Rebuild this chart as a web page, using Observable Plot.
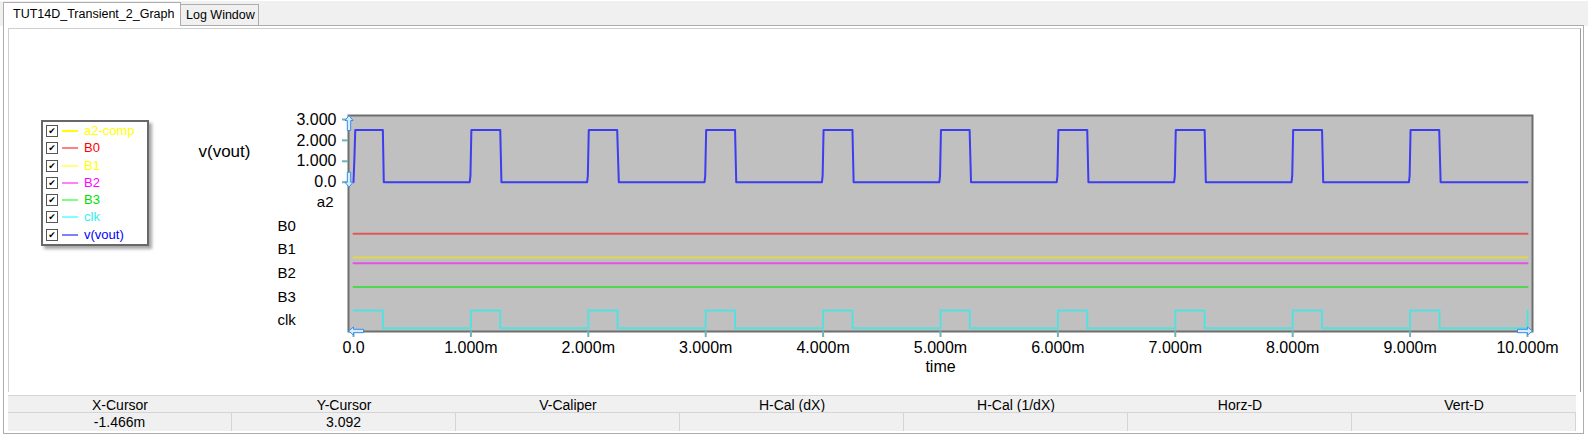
<!DOCTYPE html>
<html>
<head>
<meta charset="utf-8">
<script src="https://cdn.jsdelivr.net/npm/d3@7"></script>
<script src="https://cdn.jsdelivr.net/npm/@observablehq/plot@0.6"></script>
<style>
html,body{margin:0;padding:0;width:1588px;height:436px;overflow:hidden;background:#fff;font-family:"Liberation Sans",Arial,sans-serif;}
#strip{position:absolute;left:0;top:0;width:1588px;height:26px;background:#f0f0f0;border-top:1px solid #fff;box-sizing:border-box;}
.tab{position:absolute;font-size:12.5px;line-height:14px;box-sizing:border-box;border:1px solid #adadad;border-bottom:none;white-space:nowrap;color:#000;}
#tab1{left:3px;top:2px;width:178px;height:24px;background:#fff;padding:4px 0 0 9px;z-index:3;}
#tab2{left:180px;top:4px;width:79px;height:21px;background:#f0f0f0;padding:3px 0 0 5px;z-index:2;}
#panel{position:absolute;left:3px;top:25px;width:1581px;height:409px;box-sizing:border-box;border:1px solid #adadad;background:#fff;}
#inner{position:absolute;left:8px;top:28px;width:1573px;height:364px;box-sizing:border-box;border-top:1px solid #cfcfcf;border-left:1px solid #cfcfcf;border-right:1px solid #9a9a9a;}
#chart{position:absolute;left:0;top:0;z-index:4;}
#legend{position:absolute;left:41px;top:120px;width:108px;height:126px;box-sizing:border-box;border:2px solid #686868;background:#fff;box-shadow:3px 3px 3px rgba(0,0,0,0.35);z-index:5;}
.row{position:relative;height:17.3px;}
.cb{position:absolute;left:3px;top:3px;width:10px;height:10px;border:1px solid #555;background:#fff;font:bold 9px "DejaVu Sans";line-height:10px;text-align:center;color:#000;}
.ln{position:absolute;left:19px;top:8px;width:16px;height:2px;}
.lt{position:absolute;left:41px;top:0;font-size:13px;line-height:17px;white-space:nowrap;}
.trow{position:absolute;left:8px;width:1568px;background:#f0f0f0;box-sizing:border-box;border-top:1px solid #d5d5d5;z-index:5;}
#thead{top:395px;height:17px;}
#tvals{top:412px;height:19px;}
.cell{position:absolute;top:0;width:224px;height:100%;box-sizing:border-box;text-align:center;font-size:14px;line-height:16px;padding-top:1px;color:#000;white-space:nowrap;}
#tvals .cell{border-right:1px solid #d5d5d5;}
</style>
</head>
<body>
<div id="strip"></div>
<div class="tab" id="tab1">TUT14D_Transient_2_Graph</div>
<div class="tab" id="tab2">Log Window</div>
<div id="panel"></div>
<div id="inner"></div>
<div id="chart"></div>
<div id="legend"></div>
<div class="trow" id="thead"></div>
<div class="trow" id="tvals"></div>
<script>
// ---------- data ----------
const yTicks = [0, 1, 2, 3];
const yTickLabels = ["0.0", "1.000", "2.000", "3.000"];
const xTicks = [0, 1, 2, 3, 4, 5, 6, 7, 8, 9, 10];
const xTickLabels = ["0.0", "1.000m", "2.000m", "3.000m", "4.000m", "5.000m", "6.000m", "7.000m", "8.000m", "9.000m", "10.000m"];

// v(vout) in volts vs time in ms
const voutTime = [
  0.000, 0.008, 0.015, 0.250, 0.258,
  0.990, 0.996, 1.004, 1.250, 1.260,
  1.990, 1.996, 2.004, 2.246, 2.260,
  2.990, 2.996, 3.004, 3.250, 3.260,
  3.990, 3.996, 4.004, 4.250, 4.260,
  4.990, 4.996, 5.004, 5.248, 5.260,
  5.990, 5.996, 6.004, 6.250, 6.260,
  6.990, 6.996, 7.004, 7.250, 7.260,
  7.990, 7.996, 8.004, 8.250, 8.260,
  8.990, 8.996, 9.004, 9.248, 9.260,
  10.000
];
const voutValue = [
  0.00, 1.20, 2.50, 2.50, 0.00,
  0.00, 0.30, 2.50, 2.50, 0.00,
  0.00, 0.30, 2.50, 2.50, 0.00,
  0.00, 0.30, 2.50, 2.50, 0.00,
  0.00, 0.30, 2.50, 2.50, 0.00,
  0.00, 0.30, 2.50, 2.50, 0.00,
  0.00, 0.30, 2.50, 2.50, 0.00,
  0.00, 0.30, 2.50, 2.50, 0.00,
  0.00, 0.30, 2.50, 2.50, 0.00,
  0.00, 0.30, 2.50, 2.50, 0.00,
  0.00
];

// digital lanes
const laneNames = ["a2", "B0", "B1", "B2", "B3", "clk"];
const clkTime  = [0, 0.25, 1, 1.25, 2, 2.25, 3, 3.25, 4, 4.25, 5, 5.25, 6, 6.25, 7, 7.25, 8, 8.25, 9, 9.25, 10];
const clkValue = [1, 0,    1, 0,    1, 0,    1, 0,    1, 0,    1, 0,    1, 0,    1, 0,    1, 0,    1, 0,    1];
const busTime = [0, 10];
const b0Value = [0, 0];
const b1Value = [0, 0];
const b2Value = [1, 1];
const b3Value = [1, 1];

// legend & cursor table
const legendNames = ["a2-comp", "B0", "B1", "B2", "B3", "clk", "v(vout)"];
const tableHeaders = ["X-Cursor", "Y-Cursor", "V-Caliper", "H-Cal (dX)", "H-Cal (1/dX)", "Horz-D", "Vert-D"];
const tableValues = ["-1.466m", "3.092", "", "", "", "", ""];

// ---------- styles ----------
const legendTextColors = ["#ffff00", "#ff0000", "#ffff00", "#ff00ff", "#00e000", "#33eeee", "#0000ff"];
const legendLineColors = ["#ffff00", "#ff8080", "#ffff80", "#ff80ff", "#80ff80", "#80ffff", "#8080ff"];
const traceColors = {vout: "#3c3cf0", B0: "#e05858", B1: "#e0d84c", B2: "#e055e0", B3: "#4fd84f", clk: "#55e0e0"};
const tickColor = "#6cb3b6";

// lane layout (in y-scale units)
const laneY = (i, v) => -1.34 - 1.13 * i + 0.85 * v;

const vout = voutTime.map((t, i) => ({t, v: voutValue[i]}));
const lane = (times, vals, idx) => times.map((t, i) => ({t, v: laneY(idx, vals[i])}));

// cursor arrow symbols (hollow block arrows)
const arrowSym = (rot) => ({
  draw(ctx) {
    const pts = [[0, -7.5], [4, -2.5], [1.7, -2.5], [1.7, 7.5], [-1.7, 7.5], [-1.7, -2.5], [-4, -2.5]];
    const c = Math.cos(rot), s = Math.sin(rot);
    pts.forEach(([x, y], i) => {
      const X = x * c - y * s, Y = x * s + y * c;
      if (i === 0) ctx.moveTo(X, Y); else ctx.lineTo(X, Y);
    });
    ctx.closePath();
  }
});
const arrowStyle = {fill: "#d8ecff", stroke: "#3a8ee6", strokeWidth: 1};

const chart = Plot.plot({
  width: 1588,
  height: 390,
  marginLeft: 348,
  marginRight: 56,
  marginTop: 115,
  marginBottom: 59,
  style: {background: "transparent", fontFamily: "'Liberation Sans', Arial, sans-serif", fontSize: "16px", color: "#000"},
  x: {domain: [0, 10], insetLeft: 5, insetRight: 5},
  y: {domain: [-7.14, 3.19]},
  marks: [
    Plot.frame({fill: "#c0c0c0", stroke: "#6e6e6e", strokeWidth: 2}),
    Plot.axisY({ticks: yTicks, tickFormat: d => yTickLabels[yTicks.indexOf(d)], tickSize: 6, tickPadding: 6, stroke: tickColor, strokeWidth: 2, fill: "#000", label: null, fontSize: 16}),
    Plot.axisX({ticks: xTicks, tickFormat: d => xTickLabels[xTicks.indexOf(d)], tickSize: 6, tickPadding: 4, stroke: tickColor, strokeWidth: 2, fill: "#000", label: null, fontSize: 16}),
    Plot.line(lane(busTime, b0Value, 1), {x: "t", y: "v", stroke: traceColors.B0, strokeWidth: 2}),
    Plot.line(lane(busTime, b1Value, 2), {x: "t", y: "v", stroke: traceColors.B1, strokeWidth: 2}),
    Plot.line(lane(busTime, b2Value, 3), {x: "t", y: "v", stroke: traceColors.B2, strokeWidth: 2}),
    Plot.line(lane(busTime, b3Value, 4), {x: "t", y: "v", stroke: traceColors.B3, strokeWidth: 2}),
    Plot.line(lane(clkTime, clkValue, 5), {x: "t", y: "v", stroke: traceColors.clk, strokeWidth: 2, curve: "step-after"}),
    Plot.line(vout, {x: "t", y: "v", stroke: traceColors.vout, strokeWidth: 2}),
    // lane labels
    Plot.text(laneNames.slice(0, 1), {frameAnchor: "left", y: () => laneY(0, 0.44), dx: -15, textAnchor: "end", fontSize: 15, fill: "#000"}),
    Plot.text(laneNames.slice(1), {frameAnchor: "left", y: (d, i) => laneY(i + 1, 0.44), dx: -71, textAnchor: "start", fontSize: 15, fill: "#000"}),
    // signal name of the analog pane
    Plot.text(["v(vout)"], {frameAnchor: "left", y: 1.47, dx: -150, textAnchor: "start", fontSize: 17, fill: "#000"}),
    // x axis title
    Plot.text(["time"], {frameAnchor: "bottom", lineAnchor: "middle", dy: 35, fontSize: 16, fill: "#000"}),
    // cursor arrows
    Plot.dot([0], {frameAnchor: "top-left", dx: 0.5, dy: 7.5, symbol: arrowSym(0), ...arrowStyle}),
    Plot.dot([0], {frameAnchor: "left", y: 0, dx: 0.5, dy: -2.5, symbol: arrowSym(Math.PI), ...arrowStyle}),
    Plot.dot([0], {frameAnchor: "bottom-left", dx: 7.5, dy: -0.5, symbol: arrowSym(-Math.PI / 2), ...arrowStyle}),
    Plot.dot([0], {frameAnchor: "bottom-right", dx: -7.5, dy: -0.5, symbol: arrowSym(Math.PI / 2), ...arrowStyle})
  ]
});
document.getElementById("chart").appendChild(chart);

// legend
const legend = document.getElementById("legend");
legendNames.forEach((name, i) => {
  const row = document.createElement("div");
  row.className = "row";
  row.innerHTML = `<span class="cb">\u2714</span><span class="ln" style="background:${legendLineColors[i]}"></span><span class="lt" style="color:${legendTextColors[i]}">${name}</span>`;
  legend.appendChild(row);
});

// cursor table
const thead = document.getElementById("thead");
const tvals = document.getElementById("tvals");
tableHeaders.forEach((h, i) => {
  const c = document.createElement("div");
  c.className = "cell"; c.style.left = (i * 224) + "px"; c.textContent = h;
  thead.appendChild(c);
  const v = document.createElement("div");
  v.className = "cell"; v.style.left = (i * 224) + "px"; v.textContent = tableValues[i];
  tvals.appendChild(v);
});
</script>
</body>
</html>
